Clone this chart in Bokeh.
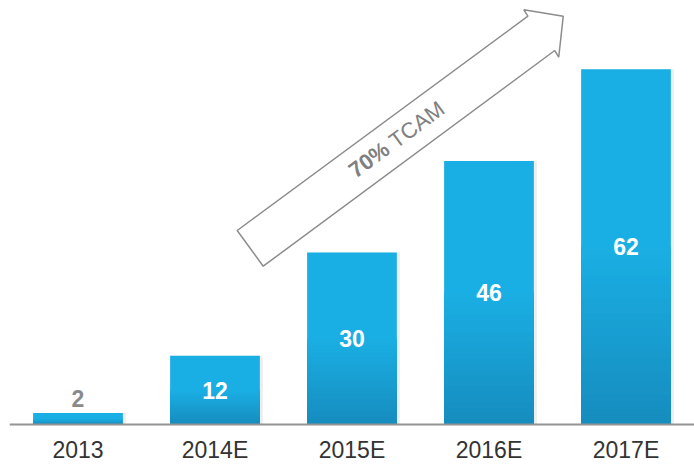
import math
from bokeh.plotting import figure
from bokeh.models import ColumnDataSource, FactorRange, Range1d, Span
from bokeh.transform import dodge
from bokeh.core.properties import value
from bokeh.embed import file_html
from bokeh.resources import INLINE

# ---- data ----
years = ["2013", "2014E", "2015E", "2016E", "2017E"]
values = [2, 12, 30, 46, 62]
value_labels = ["2", "12", "30", "46", "62"]
label_inside = [False, True, True, True, True]

# annotation arrow ("70% TCAM"), in synthetic category units / value units
arrow_x = [1.662, 3.784, 3.754, 4.042, 4.009, 3.980, 1.852]
arrow_y = [33.86, 71.26, 72.37, 71.26, 64.10, 65.27, 27.63]
arrow_text_bold = "70%"
arrow_text_plain = "TCAM"

FONT = "Liberation Sans"
TOP_COLOR = (26, 175, 228)
BOTTOM_COLOR = (22, 140, 190)

p = figure(
    x_range=FactorRange(*years, range_padding=0),
    y_range=Range1d(-6.98, 74.0),
    width=694, height=464,
    output_backend="svg", toolbar_location=None,
    x_axis_location=None, y_axis_location=None,
    min_border_left=9, min_border_right=0, min_border_top=0, min_border_bottom=0,
)
p.outline_line_color = None
p.xgrid.grid_line_color = None
p.ygrid.grid_line_color = None
p.background_fill_color = "white"
p.border_fill_color = "white"

BAR_W = 0.655
src = ColumnDataSource(dict(x=years, top=values))

# soft shadow
p.vbar(x=dodge("x", 1.5 / 137, range=p.x_range), top="top", bottom=0,
       width=BAR_W + 3 / 137, source=src, fill_color="black", fill_alpha=0.07,
       line_color=None)

# gradient bars: full bar in top colour, then overlays darker towards the bottom
p.vbar(x="x", top="top", bottom=0, width=BAR_W, source=src,
       fill_color="#%02x%02x%02x" % TOP_COLOR, line_color=None)
GF = 0.5
NB = 24
for k in range(NB, 0, -1):
    f1 = GF * k / NB
    t = 1 - (k - 0.5) / NB
    c = tuple(int(round(TOP_COLOR[i] + (BOTTOM_COLOR[i] - TOP_COLOR[i]) * t)) for i in range(3))
    p.vbar(x=years, top=[v * f1 for v in values], bottom=0, width=BAR_W,
           fill_color="#%02x%02x%02x" % c, line_color=None)

# baseline (category axis line)
p.add_layout(Span(location=0, dimension="width", line_color="#949494", line_width=2))

# category labels
p.text(x=years, y=[0] * len(years), text=years, y_offset=25,
       text_color="#333333", text_font=value(FONT), text_font_size="23px",
       text_align="center", text_baseline="middle")

# value labels
ins = [i for i, f in enumerate(label_inside) if f]
outs = [i for i, f in enumerate(label_inside) if not f]
src_in = ColumnDataSource(dict(x=[years[i] for i in ins],
                               y=[values[i] / 2 for i in ins],
                               t=[value_labels[i] for i in ins]))
p.text(x="x", y="y", text="t", source=src_in, text_color="white",
       text_font=value(FONT), text_font_style="bold", text_font_size="23px",
       text_align="center", text_baseline="middle")
src_out = ColumnDataSource(dict(x=[years[i] for i in outs],
                                y=[values[i] for i in outs],
                                t=[value_labels[i] for i in outs]))
p.text(x="x", y="y", text="t", source=src_out, text_color="#8a8a8a",
       text_font=value(FONT), text_font_style="bold", text_font_size="23px",
       text_align="center", text_baseline="middle", y_offset=-15)

# arrow
p.patch(arrow_x, arrow_y, fill_color="white", line_color="#8c8c8c", line_width=1.5)
ang = math.radians(36.4)
p.text(x=[2.754], y=[48.50], text=[arrow_text_bold], angle=ang,
       text_color="#808080", text_font=value(FONT), text_font_style="bold",
       text_font_size="22px", text_align="right", text_baseline="alphabetic")
p.text(x=[2.790], y=[49.11], text=[arrow_text_plain], angle=ang,
       text_color="#808080", text_font=value(FONT), text_font_style="normal",
       text_font_size="22px", text_align="left", text_baseline="alphabetic")

open("out.html", "w").write(file_html(p, INLINE))
